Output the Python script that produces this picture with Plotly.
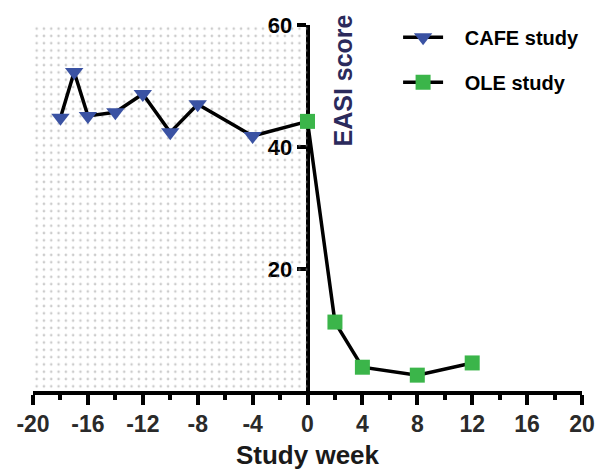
import plotly.graph_objects as go

# ---- data ----
cafe_weeks = [-18, -17, -16, -14, -12, -10, -8, -4]
cafe_easi = [44.8, 52.3, 45.1, 45.7, 48.7, 42.4, 47.0, 41.8]
ole_weeks = [0, 2, 4, 8, 12]
ole_easi = [44.2, 11.3, 3.9, 2.6, 4.6]
shade_x = [-20, 0]      # dotted pre-study region (weeks)
shade_y = [0, 60]       # EASI range of region
x_ticks = [-20, -16, -12, -8, -4, 0, 4, 8, 12, 16, 20]
x_tick_labels = ["-20", "-16", "-12", "-8", "-4", "0", "4", "8", "12", "16", "20"]
y_ticks = [20, 40, 60]
y_tick_labels = ["20", "40", "60"]

FONT = "Liberation Sans, Arial, sans-serif"
BLUE = "#3a52a3"
GREEN = "#3bb54a"
NB = "\u00a0\u00a0\u00a0"

fig = go.Figure()

# dotted background region
fig.add_trace(go.Scatter(
    x=[shade_x[0], shade_x[1], shade_x[1], shade_x[0], shade_x[0]],
    y=[shade_y[0], shade_y[0], shade_y[1], shade_y[1], shade_y[0]],
    mode="lines", line=dict(width=0), fill="toself",
    fillcolor="rgba(0,0,0,0)",
    fillpattern=dict(shape=".", size=7.3, solidity=0.1,
                     fgcolor="#9a9a9a", bgcolor="rgba(0,0,0,0)"),
    showlegend=False, hoverinfo="skip"))

# connector between studies
fig.add_trace(go.Scatter(
    x=[cafe_weeks[-1], ole_weeks[0]], y=[cafe_easi[-1], ole_easi[0]],
    mode="lines", line=dict(color="black", width=3.5),
    showlegend=False, hoverinfo="skip", cliponaxis=False))

fig.add_trace(go.Scatter(
    x=cafe_weeks, y=cafe_easi, name=NB + "CAFE study", legendgroup="a",
    mode="lines+markers", line=dict(color="black", width=3.5),
    marker=dict(symbol="triangle-down", size=16, color=BLUE,
                line=dict(width=0)),
    cliponaxis=False))

fig.add_trace(go.Scatter(
    x=ole_weeks, y=ole_easi, name=NB + "OLE study", legendgroup="b",
    mode="lines+markers", line=dict(color="black", width=3.5),
    marker=dict(symbol="square", size=15, color=GREEN,
                line=dict(width=0)),
    cliponaxis=False))

fig.add_annotation(
    x=0, y=60, xref="x", yref="y", text="EASI score", textangle=-90,
    xanchor="left", yanchor="top", xshift=19, yshift=12, showarrow=False,
    font=dict(family=FONT, size=25, color="#2b2a5c", weight="bold"))

fig.update_layout(
    width=595, height=462,
    margin=dict(l=25, r=21, t=17, b=79, autoexpand=False),
    plot_bgcolor="white", paper_bgcolor="white",
    font=dict(family=FONT),
    legend=dict(x=0.665, y=1.02, xanchor="left", yanchor="top",
                traceorder="grouped", tracegroupgap=16, itemwidth=40,
                font=dict(family=FONT, size=20, color="black",
                          weight="bold"),
                bgcolor="rgba(0,0,0,0)"),
    xaxis=dict(
        range=[-20, 20], tickvals=x_ticks, ticktext=x_tick_labels,
        showgrid=False, zeroline=False, automargin=False,
        showline=True, linecolor="black", linewidth=3.5,
        ticks="outside", ticklen=10, tickwidth=3.5, tickcolor="black",
        minor=dict(dtick=2, ticks="outside", ticklen=5, tickwidth=3.5,
                   tickcolor="black", showgrid=False),
        tickfont=dict(family=FONT, size=23, color="#2a2a2a", weight="bold"),
        title=dict(text="Study week", standoff=14,
                   font=dict(family=FONT, size=26, color="#1a1a1a",
                             weight="bold")),
        layer="below traces"),
    yaxis=dict(
        range=[0, 60], tickvals=y_ticks, ticktext=y_tick_labels,
        showgrid=False, zeroline=False,
        anchor="free", position=0.5, automargin=False,
        showline=True, linecolor="black", linewidth=3.5,
        ticks="outside", ticklen=9, tickwidth=3.5, tickcolor="black",
        tickfont=dict(family=FONT, size=22, color="black", weight="bold"),
        layer="below traces"),
)

fig.write_html("out.html")
